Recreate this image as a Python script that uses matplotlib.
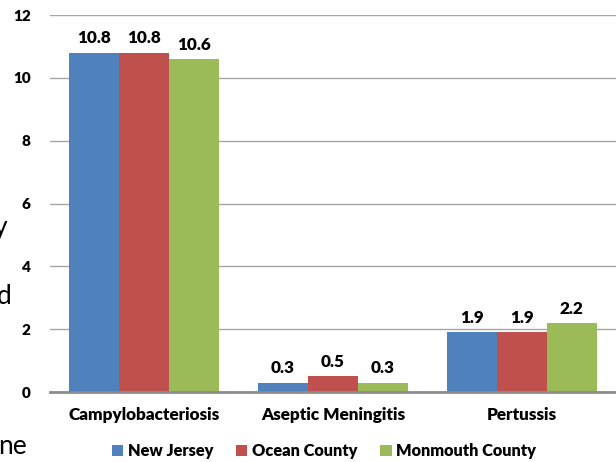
import matplotlib
matplotlib.use("Agg")
from matplotlib import pyplot as plt
import numpy as np

plt.rcParams['font.family'] = ['Lato', 'DejaVu Sans']

# data
diseases = ["Campylobacteriosis", "Aseptic Meningitis", "Pertussis"]
new_jersey = [10.8, 0.3, 1.9]
ocean_county = [10.8, 0.5, 1.9]
monmouth_county = [10.6, 0.3, 2.2]
series_names = ["New Jersey", "Ocean County", "Monmouth County"]
colors = ["#4F81BD", "#C0504D", "#9BBB59"]
y_ticks = [0, 2, 4, 6, 8, 10, 12]

W = "heavy"

fig = plt.figure(figsize=(6.16, 4.62), dpi=100)
ax = fig.add_axes([50 / 616, 70 / 462, 566 / 616, 377 / 462])

x = np.arange(len(diseases))
width = 0.265
for i, (vals, name, col) in enumerate(zip([new_jersey, ocean_county, monmouth_county], series_names, colors)):
    pos = x + (i - 1) * width
    bars = ax.bar(pos, vals, width, color=col, label=name, zorder=3)
    for b, v in zip(bars, vals):
        ax.text(b.get_x() + b.get_width() / 2, v + 0.2, f"{v:.1f}", ha="center", va="bottom",
                fontsize=12.3, fontweight=W, color="black")

ax.set_xlim(-0.5, 2.5)
ax.set_ylim(0, 12)
ax.set_yticks(y_ticks)
ax.set_yticklabels([str(t) for t in y_ticks], fontsize=11, fontweight=W)
ax.set_xticks(x)
ax.set_xticklabels(diseases, fontsize=12.3, fontweight=W)
ax.tick_params(axis="both", length=0)
ax.tick_params(axis="y", pad=14)
ax.tick_params(axis="x", pad=11)

ax.yaxis.grid(True, color="#a6a6a6", linewidth=1, zorder=0)
for s in ["top", "right", "left"]:
    ax.spines[s].set_visible(False)
ax.spines["bottom"].set_color("#8c8c8c")
ax.spines["bottom"].set_linewidth(2)
ax.spines["bottom"].set_zorder(4)

leg = fig.legend(loc="center", bbox_to_anchor=(324 / 616, 1 - 451 / 462), ncol=3, frameon=False,
                 prop={"weight": W, "size": 11.8}, handlelength=0.68, handleheight=0.68,
                 handletextpad=0.3, columnspacing=1.4)

# fragments of slide text cut off at the left edge
fig.text(-6 / 616, 1 - 228 / 462, "y", fontsize=19, va="center", ha="left")
fig.text(-3 / 616, 1 - 296 / 462, "d", fontsize=19, va="center", ha="left")
fig.text(-2 / 616, 1 - 446 / 462, "ne", fontsize=19, va="center", ha="left")

fig.savefig("out.png", dpi=100)
